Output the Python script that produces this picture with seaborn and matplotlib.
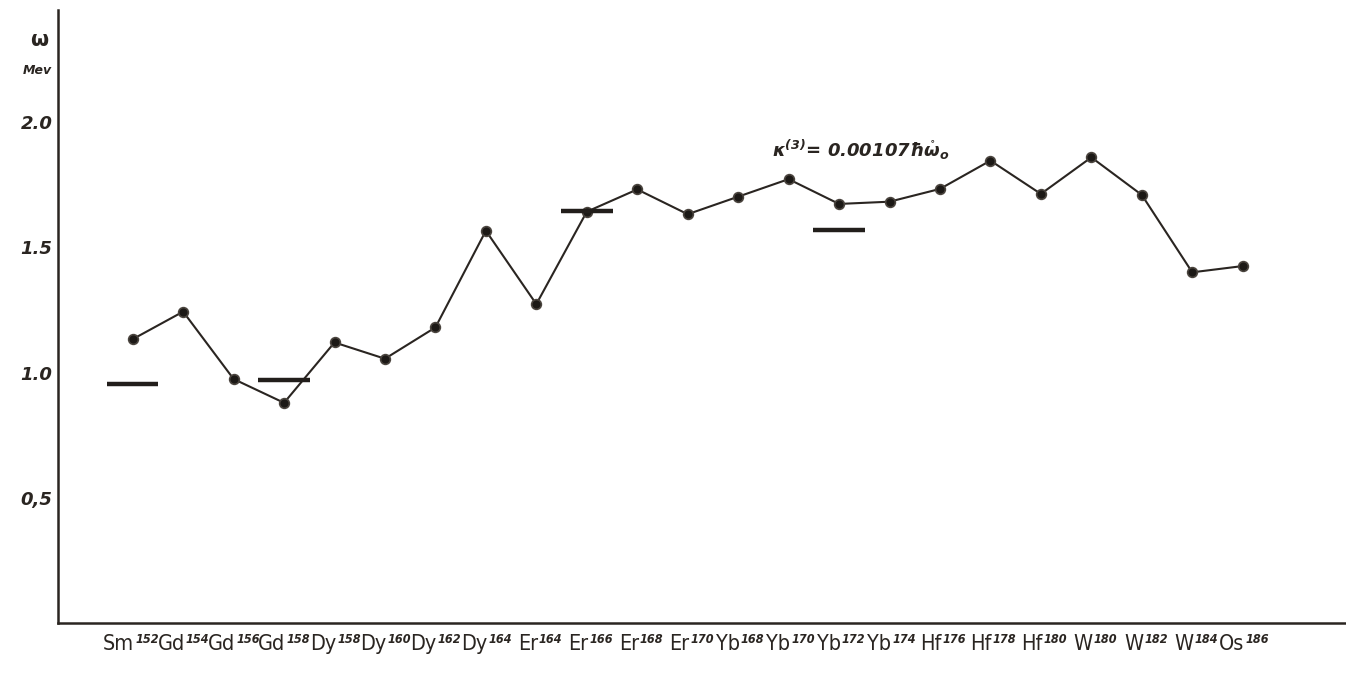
import matplotlib
matplotlib.use("Agg")
import matplotlib.pyplot as plt
import matplotlib.transforms as mtransforms
import seaborn as sns
import pandas as pd

# Nuclei along the horizontal axis
elements = ["Sm", "Gd", "Gd", "Gd", "Dy", "Dy", "Dy", "Dy", "Er", "Er", "Er", "Er",
            "Yb", "Yb", "Yb", "Yb", "Hf", "Hf", "Hf", "W", "W", "W", "Os"]
masses = [152, 154, 156, 158, 158, 160, 162, 164, 164, 166, 168, 170,
          168, 170, 172, 174, 176, 178, 180, 180, 182, 184, 186]

# Calculated energies (MeV)
omega = [1.133, 1.243, 0.974, 0.879, 1.120, 1.055, 1.180, 1.566, 1.273, 1.642,
         1.731, 1.632, 1.702, 1.772, 1.673, 1.682, 1.733, 1.846, 1.713, 1.859,
         1.709, 1.400, 1.425]

# Experimental levels, drawn as short bars
exp_index = [0, 3, 9, 14]
exp_omega = [0.954, 0.970, 1.646, 1.569]

y_ticks = [0.5, 1.0, 1.5, 2.0]
y_tick_labels = ["0,5", "1.0", "1.5", "2.0"]

annotation = r"$\kappa^{(3)}$= 0.00107$\hbar\mathring{\omega}_{o}$"

ink = "#2a2521"

sns.set_theme(style="white")
plt.rcParams["font.family"] = ["DejaVu Sans"]
plt.rcParams["mathtext.default"] = "regular"

df = pd.DataFrame({"pos": range(len(omega)), "omega": omega})

fig = plt.figure(figsize=(13.46, 6.81), dpi=100)
ax = fig.add_axes([0.0431, 0.0852, 0.957, 0.900])

sns.lineplot(data=df, x="pos", y="omega", ax=ax, color=ink, linewidth=1.5,
             marker="o", markersize=7, markerfacecolor="#1c1916",
             markeredgecolor="#4a443e", markeredgewidth=1.2)

for i, v in zip(exp_index, exp_omega):
    ax.hlines(v, i - 0.51, i + 0.51, color="#221e1b", linewidth=3.2, zorder=3)

ax.set_xlim(-1.48, 24.05)
ax.set_ylim(0, 2.447)

# Element symbols with mass numbers as raised, smaller text
ax.set_xticks(range(len(omega)))
ax.set_xticklabels([])
ax.tick_params(axis="x", length=0)
lab_tr = mtransforms.blended_transform_factory(ax.transData, ax.transAxes)
for i, (e, m) in enumerate(zip(elements, masses)):
    ax.text(i + 0.03, -0.018, e, transform=lab_tr, ha="right", va="top",
            fontsize=15.5, fontstretch="condensed", color=ink)
    ax.text(i + 0.05, -0.017, str(m), transform=lab_tr, ha="left", va="top",
            fontsize=9, fontstretch="condensed", fontweight="bold",
            style="italic", color=ink)

ax.set_yticks(y_ticks)
ax.set_yticklabels(y_tick_labels, fontsize=13, fontweight="bold",
                   style="italic", color=ink)
ax.tick_params(axis="y", direction="in", length=6.5, width=1.5, color=ink, pad=4)

ax.set_xlabel("")
ax.set_ylabel("")

for side in ["top", "right"]:
    ax.spines[side].set_visible(False)
for side in ["left", "bottom"]:
    ax.spines[side].set_color(ink)
    ax.spines[side].set_linewidth(1.8)

fig.text(40 / 1346, 1 - 40 / 681, r"$\omega$", fontsize=15, fontweight="bold",
         color=ink, ha="center", va="center")
fig.text(37 / 1346, 1 - 70 / 681, "Mev", fontsize=9, fontweight="bold",
         style="italic", color=ink, ha="center", va="center")

ax.text(14.42, 1.89, annotation, fontsize=13, fontweight="bold", style="italic",
        color=ink, ha="center", va="center")

fig.savefig("out.png", dpi=100, facecolor="white")
